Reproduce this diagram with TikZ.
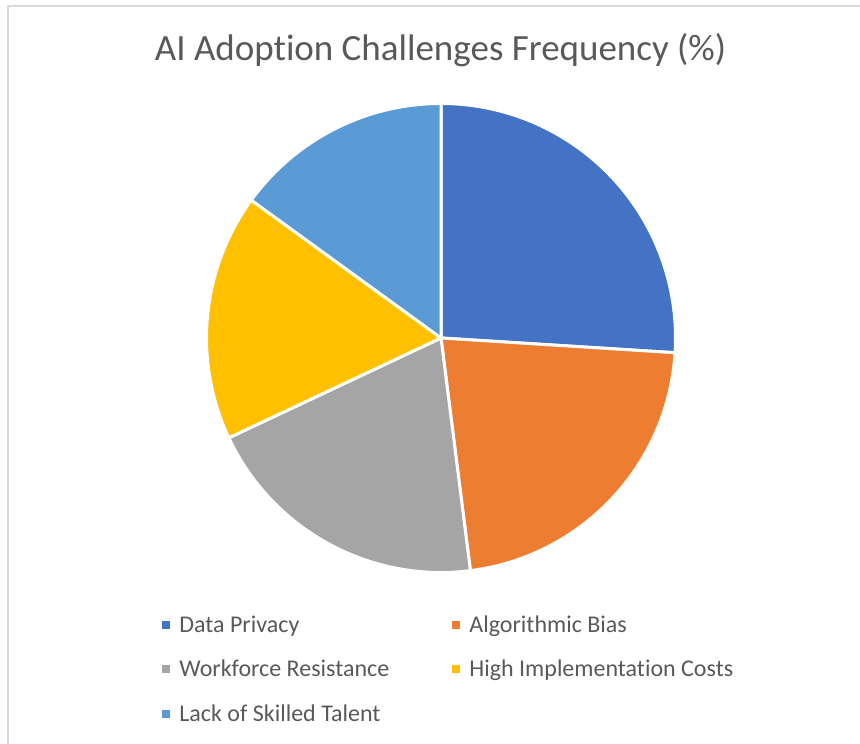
\documentclass[tikz,border=0pt]{standalone}
\usepackage{fontspec}
\setmainfont{Carlito}[Ligatures=NoCommon]
\usetikzlibrary{positioning}
\definecolor{sliceA}{HTML}{4472C4}
\definecolor{sliceB}{HTML}{ED7D31}
\definecolor{sliceC}{HTML}{A5A5A5}
\definecolor{sliceD}{HTML}{FFC000}
\definecolor{sliceE}{HTML}{5B9BD5}
\definecolor{txtgray}{HTML}{595959}
\definecolor{framegray}{HTML}{D9D9D9}
\tikzset{
  slice/.style={draw=white, line width=3pt, line join=round},
  ttl/.style={font=\fontsize{37}{44}\selectfont, text=txtgray, inner sep=0pt},
  legkey/.style={minimum size=8pt, inner sep=0pt},
  legtext/.style={font=\fontsize{24}{28}\selectfont, text=txtgray, inner sep=0pt,
                  text height=18pt, text depth=2pt},
}

\begin{document}
\begin{tikzpicture}[x=1pt, y=1pt]
  \useasboundingbox (0,0) rectangle (860,744);
  \draw[framegray, line width=1.5pt] (8,0) -- (8,738) -- (860,738);
  \node[ttl, anchor=base] (title) at (440.5,683) {AI Adoption Challenges Frequency (\%)};
  % pie, clockwise from the top
  \coordinate (ctr) at (441,406);
  \foreach \a/\b/\c in {90/-3.6/sliceA, -3.6/-82.8/sliceB, -82.8/-154.8/sliceC,
                        -154.8/-216/sliceD, -216/-270/sliceE}
    \filldraw[slice, fill=\c] (ctr) -- ++(\a:234.5)
      arc[start angle=\a, end angle=\b, radius=234.5] -- cycle;
  % legend
  \node[legkey, fill=sliceA] (kPriv) at (166,119) {};
  \node[legtext, right=9pt of kPriv] (tPriv) {Data Privacy};
  \node[legkey, fill=sliceB] (kBias) at (456,119) {};
  \node[legtext, right=9pt of kBias] (tBias) {Algorithmic Bias};
  \node[legkey, fill=sliceC] (kWork) at (166,75) {};
  \node[legtext, right=9pt of kWork] (tWork) {Workforce Resistance};
  \node[legkey, fill=sliceD] (kCost) at (456,75) {};
  \node[legtext, right=9pt of kCost] (tCost) {High Implementation Costs};
  \node[legkey, fill=sliceE] (kTal) at (166,30) {};
  \node[legtext, right=9pt of kTal] (tTal) {Lack of Skilled Talent};
\end{tikzpicture}
\end{document}
